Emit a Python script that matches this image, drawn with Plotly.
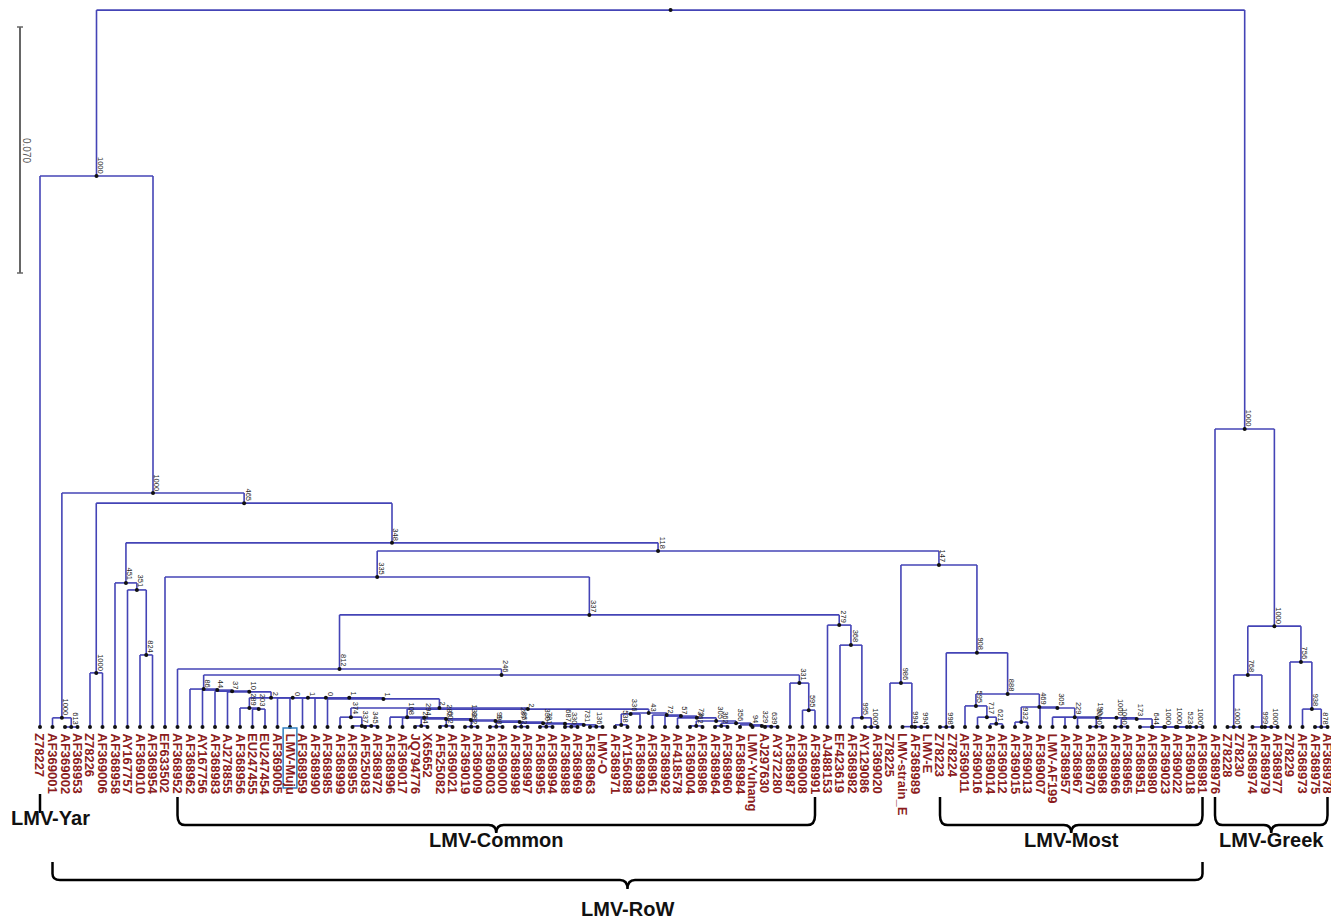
import plotly.graph_objects as go

# ---------------- data ----------------
leaf_names = [
    "Z78227", "AF369001", "AF369002", "AF368953", "Z78226", "AF369006", "AF368958", "AY167757",
    "AF369010", "AF368954", "EF633502", "AF368952", "AF368962", "AY167756", "AF368983", "AJ278855",
    "AF368956", "EU247455", "EU247454", "AF369005", "LMV-Muju", "AF368959", "AF368990", "AF368985",
    "AF368999", "AF368955", "AF525083", "AF368972", "AF368996", "AF369017", "JQ794776", "X65652",
    "AF525082", "AF369021", "AF369019", "AF369009", "AF369003", "AF369000", "AF368998", "AF368997",
    "AF368995", "AF368994", "AF368988", "AF368969", "AF368963", "LMV-O", "AF368971", "AY156088",
    "AF368993", "AF368961", "AF368992", "AF418578", "AF369004", "AF368986", "AF368964", "AF368960",
    "AF368984", "LMV-Yuhang", "AJ297630", "AY372280", "AF368987", "AF369008", "AF368991", "AJ488153",
    "EF423619", "AF368982", "AY129086", "AF369020", "Z78225", "LMV-strain_E", "AF368989", "LMV-E",
    "Z78223", "Z78224", "AF369011", "AF369016", "AF369014", "AF369012", "AF369015", "AF369013",
    "AF369007", "LMV-AF199", "AF368957", "AF368967", "AF368970", "AF368968", "AF368966", "AF368965",
    "AF368951", "AF368980", "AF369023", "AF369022", "AF369018", "AF368981", "AF368976", "Z78228",
    "Z78230", "AF368974", "AF368979", "AF368977", "Z78229", "AF368973", "AF368975", "AF368978",
]

node_names = [
    "root", "A", "B", "C", "C2", "D", "D1", "E", "F", "J", "K", "G", "H", "L", "M", "O",
    "Q", "R44", "N37", "N10", "N2", "N289", "N203", "Na", "Nb", "Nc", "Nd", "Ne", "V", "N374",
    "N337", "N345", "U", "T", "T2", "T3", "T3a", "T4", "T4a", "T5", "T5a", "T6", "T6a", "T7",
    "T7a", "T8", "T8a", "T9", "T9a", "T9b", "S", "Sa", "Sa1", "Sb", "Sc", "Sd", "Se", "Se1",
    "Sf", "Sf1", "Sg", "Sh", "Si", "S331", "P595", "N", "N368", "N995", "N1000b", "I", "X986",
    "N994a", "N994b", "Y908", "Z998", "N888", "N595m", "N717", "N621", "N469", "N932", "N305",
    "N229", "P2", "P3", "P3a", "P4", "P4a", "P5", "P6", "P7", "P8", "P9", "Greek", "G1000",
    "G768", "Gz", "G999", "G1000c", "G756", "G938", "G878",
]

node_children = [
    ["A", "Greek"], ["Z78227", "B"], ["C", "D"], ["AF369001", "C2"], ["AF369002", "AF368953"],
    ["D1", "E"], ["Z78226", "AF369006"], ["F", "G"], ["AF368958", "J"], ["AY167757", "K"],
    ["AF369010", "AF368954"], ["H", "I"], ["EF633502", "L"], ["M", "N"], ["AF368952", "O"],
    ["Q", "S331"],
    ["AF368962", "R44"], ["AY167756", "N37"], ["AF368983", "N10"], ["AJ278855", "N2"],
    ["N289", "Na"], ["AF368956", "N203"], ["EU247455", "EU247454"], ["AF369005", "Nb"],
    ["LMV-Muju", "Nc"], ["AF368959", "Nd"], ["AF368990", "Ne"], ["AF368985", "V"],
    ["N374", "U"], ["AF368999", "N337"], ["AF368955", "N345"], ["AF525083", "AF368972"],
    ["T", "S"], ["AF368996", "T2"], ["AF369017", "T3"], ["T3a", "T4"], ["JQ794776", "X65652"],
    ["T4a", "T5"], ["AF525082", "AF369021"], ["T5a", "T6"], ["AF369019", "AF369009"],
    ["T6a", "T7"], ["AF369003", "AF369000"], ["T7a", "T8"], ["AF368998", "AF368997"],
    ["T8a", "T9"], ["AF368995", "AF368994"], ["T9a", "T9b"], ["AF368988", "AF368969"],
    ["AF368963", "LMV-O"], ["Sa", "Sb"], ["Sa1", "AF368993"], ["AF368971", "AY156088"],
    ["AF368961", "Sc"], ["AF368992", "Sd"], ["AF418578", "Se"], ["Se1", "Sf"],
    ["AF369004", "AF368986"], ["Sf1", "Sg"], ["AF368964", "AF368960"], ["AF368984", "Sh"],
    ["LMV-Yuhang", "Si"], ["AJ297630", "AY372280"], ["AF368987", "P595"],
    ["AF369008", "AF368991"], ["AJ488153", "N368"], ["EF423619", "N995"],
    ["AF368982", "N1000b"], ["AY129086", "AF369020"], ["X986", "Y908"], ["Z78225", "N994a"],
    ["LMV-strain_E", "N994b"], ["AF368989", "LMV-E"], ["Z998", "N888"], ["Z78223", "Z78224"],
    ["N595m", "N469"], ["AF369011", "N717"], ["AF369016", "N621"], ["AF369014", "AF369012"],
    ["N932", "N305"], ["AF369015", "AF369013"], ["AF369007", "N229"],
    ["LMV-AF199", "AF368957", "P2"], ["AF368967", "P3"], ["P3a", "P4"],
    ["AF368970", "AF368968"], ["P4a", "P5"], ["AF368966", "AF368965"], ["AF368951", "P6"],
    ["AF368980", "P7"], ["AF369023", "P8"], ["AF369022", "P9"], ["AF369018", "AF368981"],
    ["AF368976", "G1000"], ["G768", "G756"], ["Gz", "G999"], ["Z78228", "Z78230"],
    ["AF368974", "G1000c"], ["AF368979", "AF368977"], ["Z78229", "G938"],
    ["AF368973", "G878"], ["AF368975", "AF368978"],
]

node_dist = [
    0.2040, 0.1568, 0.0666, 0.0026, 0.0000, 0.0637, 0.0154, 0.0524, 0.0410, 0.0390, 0.0205,
    0.0501, 0.0427, 0.0319, 0.0165, 0.0148,
    0.0108, 0.0105, 0.0102, 0.0100, 0.0083, 0.0054, 0.0051, 0.0083, 0.0083, 0.0083, 0.0083,
    0.0080, 0.0054, 0.0028, 0.0003, 0.0003, 0.0051, 0.0028, 0.0026, 0.0023, 0.0003, 0.0020,
    0.0003, 0.0017, 0.0001, 0.0014, 0.0001, 0.0011, 0.0001, 0.0009, 0.0001, 0.0006, 0.0001,
    0.0001, 0.0040, 0.0037, 0.0006, 0.0034, 0.0031, 0.0026, 0.0017, 0.0003, 0.0011, 0.0003,
    0.0006, 0.0003, 0.0001, 0.0125, 0.0048, 0.0290, 0.0233, 0.0026, 0.0000, 0.0461, 0.0125,
    0.0001, 0.0000, 0.0211, 0.0000, 0.0094, 0.0060, 0.0028, 0.0009, 0.0057, 0.0014, 0.0054,
    0.0028, 0.0026, 0.0026, 0.0001, 0.0023, 0.0001, 0.0000, 0.0000, 0.0000, 0.0000, 0.0000,
    0.0848, 0.0287, 0.0148, 0.0000, 0.0000, 0.0000, 0.0185, 0.0051, 0.0000,
]

node_support = [
    "", "1000", "1000", "1000", "613", "465", "1000", "348", "451", "351", "824",
    "118", "335", "337", "812", "246",
    "86", "44", "37", "10", "2", "289", "203", "0", "1", "0", "1", "1", "2", "374",
    "337", "345", "2", "108", "294", "282", "254", "132", "602", "3", "882", "287", "998",
    "330", "862", "687", "781", "731", "330", "136", "43", "336", "538", "72", "57", "73",
    "305", "362", "356", "362", "94", "329", "639", "331", "595", "279", "368", "995", "1000",
    "147", "986", "994", "994", "908", "998", "888", "595", "717", "621", "469", "932", "305",
    "229", "190", "1000", "1000", "173", "1000", "644", "1000", "1000", "523", "1000",
    "1000", "1000", "768", "1000", "999", "1000", "756", "938", "878",
]

highlight_leaf = "LMV-Muju"

clade_names = ["LMV-Common", "LMV-Most", "LMV-Greek", "LMV-RoW"]
clade_first = ["AF368952", "Z78223", "AF368976", "AF369001"]
clade_last = ["AF368991", "AF368981", "AF368978", "AF368981"]
yar_leaf = "Z78227"
scale_value = 0.070

# ---------------- geometry helpers (layout only) ----------------
PX_PER_DIST = 246 / scale_value      # scale bar: 0.070 spans 246 px
LEAF_Y_PX = 727
BODY = 8                              # default page margin around the plot div


def ypx(px):
    """page pixel row -> y data value"""
    return (LEAF_Y_PX - px) / PX_PER_DIST


def xpx(px):
    """page pixel column -> x data value (leaf index)"""
    return (px - 40) / 12.5


leaf_index = {n: i for i, n in enumerate(leaf_names)}
children_of = dict(zip(node_names, node_children))
dist_of = dict(zip(node_names, node_dist))
support_of = dict(zip(node_names, node_support))

pos = {}


def place(name):
    if name in leaf_index:
        pos[name] = (float(leaf_index[name]), 0.0)
        return pos[name]
    ch = [place(c) for c in children_of[name]]
    x = (ch[0][0] + ch[-1][0]) / 2.0
    pos[name] = (x, dist_of[name])
    return pos[name]


place("root")

# branch lines
lx, ly = [], []
for name in node_names:
    x, h = pos[name]
    cxs = [pos[c][0] for c in children_of[name]]
    lx += [min(cxs), max(cxs), None]
    ly += [h, h, None]
    for c in children_of[name]:
        cx, ch = pos[c]
        lx += [cx, cx, None]
        ly += [ch, h, None]

fig = go.Figure()
fig.add_trace(go.Scatter(x=lx, y=ly, mode="lines",
                         line=dict(color="#4444b6", width=1.6),
                         hoverinfo="skip", showlegend=False))

dot_x = [pos[n][0] for n in node_names] + [pos[n][0] for n in leaf_names]
dot_y = [pos[n][1] for n in node_names] + [pos[n][1] for n in leaf_names]
fig.add_trace(go.Scatter(x=dot_x, y=dot_y, mode="markers",
                         marker=dict(color="#111111", size=4),
                         hoverinfo="skip", showlegend=False))

annotations = []
# leaf labels
for n in leaf_names:
    annotations.append(dict(
        x=pos[n][0], y=ypx(731), text="<b>%s</b>" % n, showarrow=False,
        textangle=90, xanchor="center", yanchor="top",
        font=dict(family="Liberation Sans, Arial", size=13, color="#8b1c20")))

# support labels
for n in node_names:
    s = support_of[n]
    if not s:
        continue
    x, h = pos[n]
    annotations.append(dict(
        x=x, y=h, text=s, showarrow=False, textangle=90,
        xanchor="center", yanchor="bottom", xshift=4, yshift=0,
        font=dict(family="Liberation Sans, Arial", size=7.5, color="#222222")))

shapes = []
# scale bar
sb_top, sb_bot = ypx(27), ypx(27) - scale_value
for yy in (sb_top, sb_bot):
    shapes.append(dict(type="line", xref="x", yref="y", x0=xpx(17), x1=xpx(23), y0=yy, y1=yy,
                       line=dict(color="#666666", width=1.5)))
shapes.append(dict(type="line", xref="x", yref="y", x0=xpx(20), x1=xpx(20), y0=sb_top, y1=sb_bot,
                   line=dict(color="#666666", width=2)))
annotations.append(dict(x=xpx(27), y=(sb_top + sb_bot) / 2, text="0.070", showarrow=False,
                        textangle=90, font=dict(family="Liberation Sans, Arial", size=10,
                                                color="#555555")))

# highlight box around LMV-Muju label
hx = pos[highlight_leaf][0]
shapes.append(dict(type="rect", xref="x", yref="y", x0=hx - 0.55, x1=hx + 0.55,
                   y0=ypx(728), y1=ypx(788), line=dict(color="#2f7fc0", width=1.5)))


def bracket(xa, xb, ytop, ybar, ytip, r=0.6):
    xm = (xa + xb) / 2
    dy = (ytop - ybar) * 0.35
    return ("M %f,%f L %f,%f Q %f,%f %f,%f L %f,%f Q %f,%f %f,%f "
            "Q %f,%f %f,%f L %f,%f Q %f,%f %f,%f L %f,%f" % (
                xa, ytop, xa, ybar + dy, xa, ybar, xa + r, ybar,
                xm - r, ybar, xm, ybar, xm, ytip,
                xm, ybar, xm + r, ybar, xb - r, ybar, xb, ybar, xb, ybar + dy,
                xb, ytop))


bracket_rows = {"LMV-Common": (797, 825, 833, 840), "LMV-Most": (797, 825, 833, 840),
                "LMV-Greek": (797, 825, 833, 840), "LMV-RoW": (862, 880, 889, 909)}
for name, a, b in zip(clade_names, clade_first, clade_last):
    xa, xb = pos[a][0], pos[b][0]
    top, bar, tip, lab = bracket_rows[name]
    shapes.append(dict(type="path", xref="x", yref="y",
                       path=bracket(xa, xb, ypx(top), ypx(bar), ypx(tip)),
                       line=dict(color="#000000", width=2.5)))
    annotations.append(dict(x=(xa + xb) / 2, y=ypx(lab), text="<b>%s</b>" % name,
                            showarrow=False, xanchor="center", yanchor="middle",
                            font=dict(family="Liberation Sans, Arial", size=20,
                                      color="#111111")))

# LMV-Yar
yx = pos[yar_leaf][0]
shapes.append(dict(type="line", xref="x", yref="y", x0=yx, x1=yx, y0=ypx(794), y1=ypx(813),
                   line=dict(color="#000000", width=2.5)))
annotations.append(dict(x=xpx(50), y=ypx(818), text="<b>LMV-Yar</b>", showarrow=False,
                        xanchor="center", yanchor="middle",
                        font=dict(family="Liberation Sans, Arial", size=20, color="#111111")))

fig.update_layout(
    width=1339 - BODY, height=919 - BODY,
    margin=dict(l=0, r=0, t=0, b=0),
    paper_bgcolor="white", plot_bgcolor="white",
    xaxis=dict(range=[xpx(BODY), xpx(1339)], visible=False, fixedrange=True),
    yaxis=dict(range=[ypx(919), ypx(BODY)], visible=False, fixedrange=True),
    annotations=annotations, shapes=shapes, showlegend=False,
)

fig.write_html("out.html")
